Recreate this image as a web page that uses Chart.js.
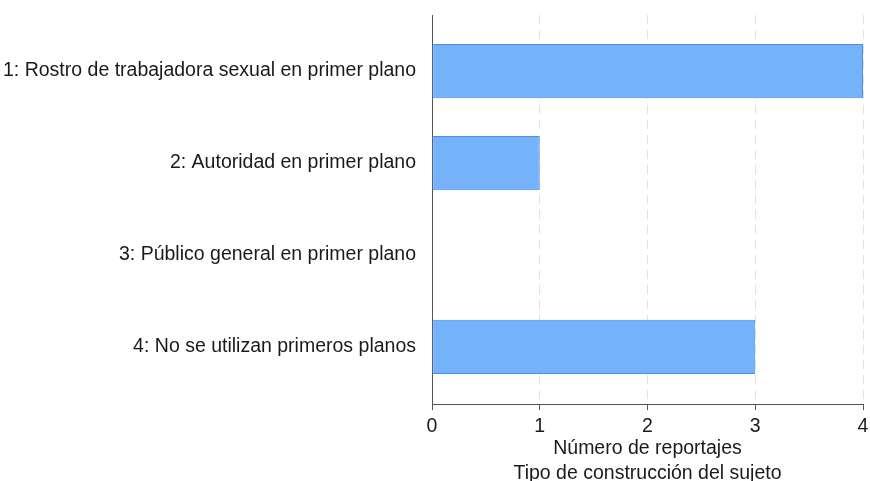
<!DOCTYPE html>
<html>
<head>
<meta charset="utf-8">
<script src="https://cdn.jsdelivr.net/npm/chart.js@4/dist/chart.umd.min.js"></script>
<style>
  html, body { margin: 0; padding: 0; background: #ffffff; }
  #wrap { width: 870px; height: 481px; }
</style>
</head>
<body>
<div id="wrap"><canvas id="c" width="870" height="481"></canvas></div>
<script>
const categories = [
  "1: Rostro de trabajadora sexual en primer plano",
  "2: Autoridad en primer plano",
  "3: Público general en primer plano",
  "4: No se utilizan primeros planos"
];
const values = [4, 1, 0, 3];
const xTicks = [0, 1, 2, 3, 4];
const xTitle = "Número de reportajes";
const bottomTitle = "Tipo de construcción del sujeto";

const FONT = "'Liberation Sans', Arial, Helvetica, sans-serif";
const points = values.map((v, i) => ({ x: v, y: i + 1 }));

new Chart(document.getElementById('c'), {
  type: 'bar',
  data: {
    datasets: [{
      data: points,
      backgroundColor: '#74b3fb',
      borderColor: '#4a8ee3',
      borderWidth: (ctx) => (ctx.raw && ctx.raw.x === 0 ? 0 : 1),
      borderSkipped: false,
      categoryPercentage: 1,
      barPercentage: 0.59
    }]
  },
  options: {
    indexAxis: 'y',
    responsive: false,
    animation: false,
    devicePixelRatio: 1,
    layout: { padding: { top: 15, right: 7, left: 0, bottom: 0 } },
    plugins: {
      legend: { display: false },
      tooltip: { enabled: false },
      title: { display: false }
    },
    scales: {
      x: {
        type: 'linear',
        position: 'bottom',
        min: 0,
        max: 4,
        afterBuildTicks: (s) => { s.ticks = xTicks.map(v => ({ value: v })); },
        afterFit: (s) => { s.height = 77; s.paddingLeft = 0; s.paddingRight = 0; },
        ticks: {
          color: '#1a1a1a',
          padding: 4.5,
          font: { family: FONT, size: 19.5 }
        },
        grid: {
          color: (ctx) => (ctx.tick && ctx.tick.value === 0 ? 'rgba(0,0,0,0)' : '#e2e2e2'),
          lineWidth: 1,
          tickColor: '#555555',
          tickLength: 6,
          tickBorderDash: [],
          drawOnChartArea: true
        },
        border: { display: true, color: '#555555', width: 1, dash: [9, 6] },
        title: {
          display: true,
          text: [xTitle, bottomTitle],
          color: '#1a1a1a',
          font: { family: FONT, size: 19.5, lineHeight: 1.28 },
          padding: { top: 0, bottom: -5.5 }
        }
      },
      y: {
        type: 'linear',
        reverse: true,
        offset: false,
        min: 0.39,
        max: 4.62,
        afterFit: (s) => { s.width = 432; s.paddingTop = 0; s.paddingBottom = 0; },
        ticks: {
          stepSize: 1,
          includeBounds: false,
          autoSkip: false,
          padding: 8,
          color: '#1a1a1a',
          font: { family: FONT, size: 19.5 },
          callback: (v) => (Number.isInteger(v) && v >= 1 && v <= categories.length ? categories[v - 1] : '')
        },
        grid: { display: false, offset: false },
        border: { display: true, color: '#555555', width: 1 }
      }
    }
  }
});
</script>
</body>
</html>
